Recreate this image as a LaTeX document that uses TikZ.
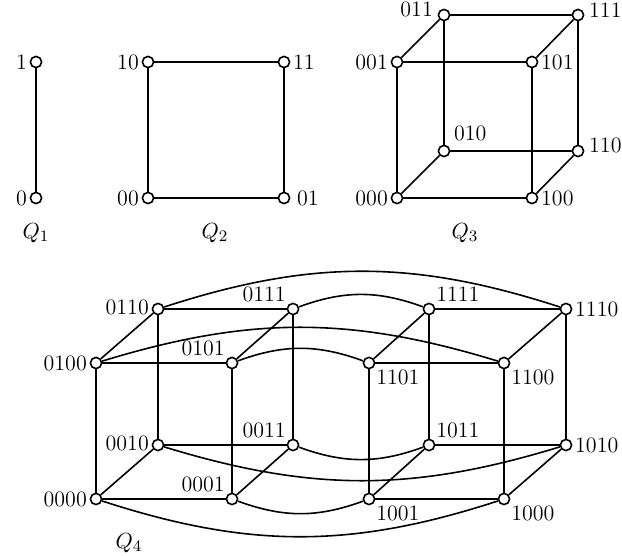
\documentclass[tikz,border=0pt]{standalone}
\begin{document}
\begin{tikzpicture}[x=0.5pt,y=-0.5pt,
  every node/.style={font=\fontsize{11pt}{13pt}\selectfont},
  vtx/.style={circle,draw,fill=white,inner sep=0pt,minimum size=5.6pt,line width=0.8pt},
  every label/.style={inner sep=1.2pt,font=\fontsize{11pt}{13pt}\selectfont},
  edge/.style={line width=0.8pt},
  qlab/.style={inner sep=0pt}]
\useasboundingbox (0,0) rectangle (622,556);
% Q1
\node[vtx,label=left:1] (q1a) at (36,62) {};
\node[vtx,label=left:0] (q1b) at (36,198) {};
\draw[edge] (q1a) -- (q1b);
\node[qlab] (t1) at (36,233) {$Q_1$};
% Q2
\node[vtx,label=left:10] (a10) at (148,62) {};
\node[vtx,label=right:11] (a11) at (284,62) {};
\node[vtx,label=left:00] (a00) at (148,198) {};
\node[vtx,label={[label distance=2pt]right:01}] (a01) at (284,198) {};
\draw[edge] (a10) -- (a11) -- (a01) -- (a00) -- (a10);
\node[qlab] (t2) at (215,233) {$Q_2$};
% Q3
\node[vtx,label={[yshift=2.6pt,label distance=1pt]left:011}] (b011) at (444,15) {};
\node[vtx,label={[yshift=2.6pt,label distance=1pt]right:111}] (b111) at (578,15) {};
\node[vtx,label=left:001] (b001) at (397,62) {};
\node[vtx,label=right:101] (b101) at (532,62) {};
\node[vtx,label={[label distance=2pt]45:010}] (b010) at (444,151) {};
\node[vtx,label={[yshift=3pt,label distance=1pt]right:110}] (b110) at (578,151) {};
\node[vtx,label=left:000] (b000) at (397,198) {};
\node[vtx,label=right:100] (b100) at (532,198) {};
\draw[edge] (b001) -- (b101) -- (b100) -- (b000) -- (b001);
\draw[edge] (b011) -- (b111) -- (b110) -- (b010) -- (b011);
\draw[edge] (b001) -- (b011) (b101) -- (b111) (b100) -- (b110) (b000) -- (b010);
\node[qlab] (t3) at (465,233) {$Q_3$};
% Q4
\node[vtx,label={[yshift=1pt]left:0110}] (c0110) at (158,309) {};
\node[vtx,label=above left:0111] (c0111) at (293,309) {};
\node[vtx,label=left:0100] (c0100) at (96,363) {};
\node[vtx,label=above left:0101] (c0101) at (232,363) {};
\node[vtx,label={[yshift=1pt]left:0010}] (c0010) at (158,445) {};
\node[vtx,label=above left:0011] (c0011) at (293,445) {};
\node[vtx,label=left:0000] (c0000) at (96,499) {};
\node[vtx,label=above left:0001] (c0001) at (232,499) {};
\node[vtx,label=above right:1111] (c1111) at (429,309) {};
\node[vtx,label=right:1110] (c1110) at (566,309) {};
\node[vtx,label=below right:1101] (c1101) at (369,363) {};
\node[vtx,label=below right:1100] (c1100) at (504,363) {};
\node[vtx,label=above right:1011] (c1011) at (429,445) {};
\node[vtx,label=right:1010] (c1010) at (566,445) {};
\node[vtx,label=below right:1001] (c1001) at (369,499) {};
\node[vtx,label=below right:1000] (c1000) at (504,499) {};
% left cube
\draw[edge] (c0100) -- (c0101) -- (c0001) -- (c0000) -- (c0100);
\draw[edge] (c0110) -- (c0111) -- (c0011) -- (c0010) -- (c0110);
\draw[edge] (c0100) -- (c0110) (c0101) -- (c0111) (c0001) -- (c0011) (c0000) -- (c0010);
% right cube
\draw[edge] (c1101) -- (c1100) -- (c1000) -- (c1001) -- (c1101);
\draw[edge] (c1111) -- (c1110) -- (c1010) -- (c1011) -- (c1111);
\draw[edge] (c1101) -- (c1111) (c1100) -- (c1110) (c1000) -- (c1010) (c1001) -- (c1011);
% cross edges
\draw[edge] (c0110) to[bend left=18] (c1110);
\draw[edge] (c0111) to[bend left=20] (c1111);
\draw[edge] (c0100) to[bend left=17] (c1100);
\draw[edge] (c0101) to[bend left=20] (c1101);
\draw[edge] (c0011) to[bend right=20] (c1011);
\draw[edge] (c0010) to[bend right=17] (c1010);
\draw[edge] (c0001) to[bend right=20] (c1001);
\draw[edge] (c0000) to[bend right=18] (c1000);
\node[qlab] (t4) at (129,543) {$Q_4$};
\end{tikzpicture}
\end{document}
